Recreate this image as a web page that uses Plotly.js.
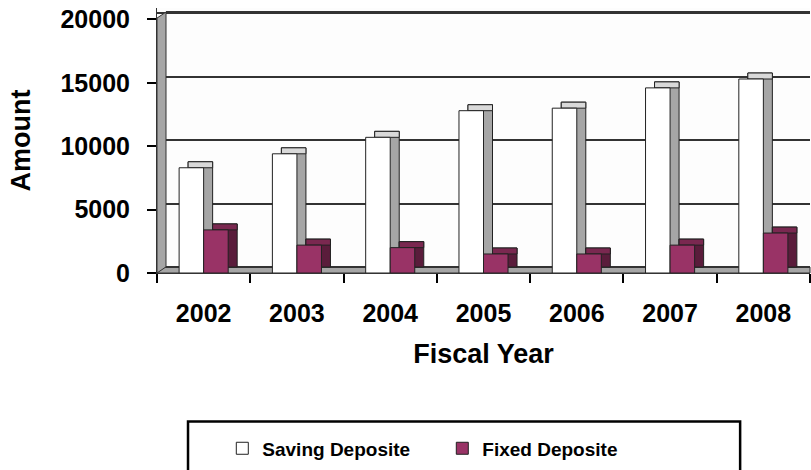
<!DOCTYPE html>
<html>
<head>
<meta charset="utf-8">
<script src="https://cdn.plot.ly/plotly-3.0.1.min.js"></script>
<style>html,body{margin:0;padding:0;background:#fff;}#chart{width:811px;height:470px;}</style>
</head>
<body>
<div id="chart"></div>
<script>
// ---- data ----
const years = ['2002', '2003', '2004', '2005', '2006', '2007', '2008'];
const savingDeposit = [8300, 9400, 10700, 12800, 13000, 14600, 15300];
const fixedDeposit = [3400, 2200, 2000, 1500, 1500, 2200, 3150];
const seriesNames = ['Saving Deposite', 'Fixed Deposite'];
const yTicks = [0, 5000, 10000, 15000, 20000];

// ---- pseudo-3D settings ----
const FONT = 'Arial, "Liberation Sans", sans-serif';
const barW = 0.263;      // front face width (category units)
const dx = 0.0965;       // depth shift to the right (category units)
const dy = 472;          // depth shift upward (value units)
const yMax = 20900;

function faces(vals, name, offset, front, side, top) {
  return [
    { type: 'bar', x: years, y: vals, base: dy, offset: offset + dx, width: barW,
      marker: { color: side, line: { color: '#222', width: 1 } }, showlegend: false, hoverinfo: 'skip' },
    { type: 'bar', x: years, y: vals.map(() => dy), base: vals, offset: offset + dx, width: barW,
      marker: { color: top, line: { color: '#222', width: 1 } }, showlegend: false, hoverinfo: 'skip' },
    { type: 'bar', x: years, y: vals, name: name, offset: offset, width: barW,
      marker: { color: front, line: { color: '#222', width: 1 } } }
  ];
}

const traces = [].concat(
  faces(savingDeposit, seriesNames[0], -barW, '#ffffff', '#a6a6a6', '#d9d9d9'),
  faces(fixedDeposit, seriesNames[1], 0, '#993366', '#5a1c3b', '#7a2850'),
  [{ type: 'scatter', x: [years[0]], y: [0], yaxis: 'y2', mode: 'markers',
     marker: { opacity: 0 }, showlegend: false, hoverinfo: 'skip' }]
);

const layout = {
  width: 811, height: 470,
  margin: { l: 157, r: 1, t: 8, b: 197 },
  paper_bgcolor: '#ffffff', plot_bgcolor: '#fdfdfd',
  barmode: 'overlay',
  font: { family: FONT, color: '#000' },
  xaxis: {
    type: 'category', range: [-0.5, 6.5], fixedrange: true,
    tickson: 'boundaries', ticks: 'outside', ticklen: 9, tickwidth: 2, tickcolor: '#000',
    showline: true, linecolor: '#333', linewidth: 1,
    tickfont: { family: FONT, size: 25, weight: 'bold', color: '#000' },
    ticklabelstandoff: 18,
    title: { text: 'Fiscal Year', font: { family: FONT, size: 27, weight: 'bold', color: '#000' }, standoff: 18 },
    automargin: false
  },
  yaxis: {
    range: [0, yMax], tickvals: yTicks, ticktext: yTicks.map(String),
    showgrid: false, zeroline: false,
    ticks: 'outside', ticklen: 9, tickwidth: 2, tickcolor: '#000',
    showline: true, linecolor: '#333', linewidth: 1,
    tickfont: { family: FONT, size: 25, weight: 'bold', color: '#000' },
    ticklabelstandoff: 12,
    title: { text: 'Amount', font: { family: FONT, size: 27, weight: 'bold', color: '#000' }, standoff: 22 },
    automargin: false
  },
  yaxis2: {
    overlaying: 'y', anchor: 'x', side: 'left',
    range: [-dy, yMax - dy], tickvals: yTicks,
    showgrid: true, gridcolor: '#333333', gridwidth: 2,
    showticklabels: false, ticks: '', zeroline: false, showline: false
  },
  showlegend: true,
  legend: {
    orientation: 'h', x: 0.1, xanchor: 'left', y: -0.662, yanchor: 'middle',
    font: { family: FONT, size: 19, weight: 'bold', color: '#000' },
    bgcolor: 'rgba(0,0,0,0)', borderwidth: 0,
    entrywidth: 175, entrywidthmode: 'pixels', itemwidth: 30, traceorder: 'normal'
  },
  shapes: [
    // floor
    { type: 'rect', xref: 'x domain', yref: 'y', x0: 0, x1: 1, y0: 0, y1: dy,
      fillcolor: '#a6a6a6', line: { color: '#333', width: 1 }, layer: 'below' },
    // left wall
    { type: 'path', xref: 'paper', yref: 'paper', layer: 'above',
      path: 'M0,0 L0,0.962 L0.0138,0.9847 L0.0138,0.023 Z',
      fillcolor: '#a6a6a6', line: { color: '#333', width: 1 } },
    // top edge of back wall
    { type: 'path', xref: 'paper', yref: 'paper', layer: 'above',
      path: 'M0.0138,0.9847 L1,0.9847',
      line: { color: '#333333', width: 2 } },
    // legend box
    { type: 'rect', xref: 'paper', yref: 'paper', x0: 0.0475, x1: 0.893, y0: -0.56, y1: -0.80,
      fillcolor: 'rgba(0,0,0,0)', line: { color: '#000', width: 2.5 } }
  ]
};

Plotly.newPlot('chart', traces, layout, { displayModeBar: false, staticPlot: true });
</script>
</body>
</html>
